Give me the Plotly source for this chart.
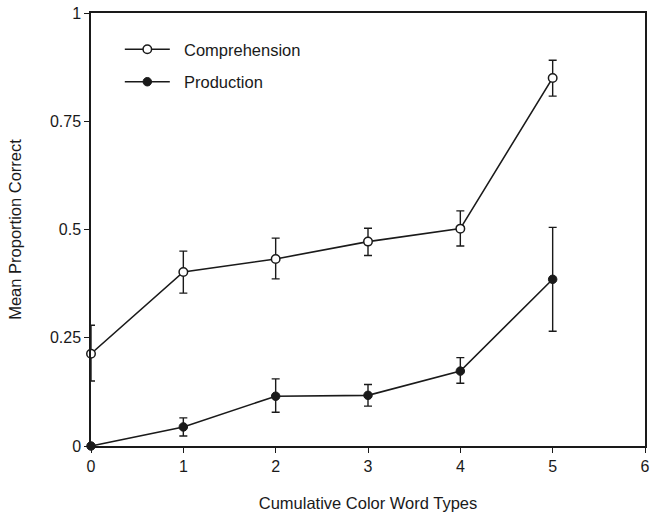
import plotly.graph_objects as go

x_vals = [0, 1, 2, 3, 4, 5]
comp_mean = [0.213, 0.402, 0.432, 0.472, 0.502, 0.850]
comp_err_plus = [0.066, 0.048, 0.048, 0.031, 0.041, 0.041]
comp_err_minus = [0.063, 0.049, 0.046, 0.032, 0.040, 0.042]
prod_mean = [0.0, 0.044, 0.115, 0.117, 0.173, 0.385]
prod_err_plus = [0.0, 0.021, 0.040, 0.025, 0.031, 0.120]
prod_err_minus = [0.0, 0.021, 0.037, 0.025, 0.028, 0.120]
x_ticks = [0, 1, 2, 3, 4, 5, 6]
y_ticks = [0, 0.25, 0.5, 0.75, 1]
y_tick_labels = ["0", "0.25", "0.5", "0.75", "1"]
series_names = ["Comprehension", "Production"]

ink = "#1a1a1a"
font_family = "Liberation Sans, Arial, sans-serif"
pad = "\u00a0\u00a0"

fig = go.Figure()
fig.add_trace(go.Scatter(
    x=x_vals, y=comp_mean, name=pad + series_names[0], mode="lines+markers",
    legendgroup="a",
    line=dict(color=ink, width=1.6),
    marker=dict(symbol="circle", size=8.5, color="white", line=dict(color=ink, width=1.5)),
    error_y=dict(type="data", symmetric=False, array=comp_err_plus, arrayminus=comp_err_minus,
                 color=ink, thickness=1.4, width=4),
    cliponaxis=False,
))
fig.add_trace(go.Scatter(
    x=x_vals, y=prod_mean, name=pad + series_names[1], mode="lines+markers",
    legendgroup="b",
    line=dict(color=ink, width=1.6),
    marker=dict(symbol="circle", size=8.5, color=ink, line=dict(color=ink, width=1)),
    error_y=dict(type="data", symmetric=False, array=prod_err_plus, arrayminus=prod_err_minus,
                 color=ink, thickness=1.4, width=4),
    cliponaxis=False,
))

fig.update_layout(
    width=658, height=512,
    margin=dict(l=91, r=13, t=13, b=66),
    paper_bgcolor="white", plot_bgcolor="white",
    font=dict(family=font_family, size=16, color=ink),
    showlegend=True,
    legend=dict(x=0.052, y=0.956, xanchor="left", yanchor="top",
                bgcolor="rgba(0,0,0,0)", font=dict(size=16.5), itemwidth=45,
                tracegroupgap=8),
)
fig.update_xaxes(
    range=[0, 6], tickvals=x_ticks, ticks="outside", ticklen=5, tickwidth=1.3, tickcolor=ink,
    showline=True, linecolor=ink, linewidth=1.5, mirror=True, showgrid=False, zeroline=False,
    automargin=False,
    title=dict(text="Cumulative Color Word Types", standoff=24, font=dict(size=16.5)),
)
fig.update_yaxes(
    range=[0, 1], tickvals=y_ticks, ticktext=y_tick_labels, ticks="outside", ticklen=5,
    tickwidth=1.3, tickcolor=ink, automargin=False,
    showline=True, linecolor=ink, linewidth=1.5, mirror=True, showgrid=False, zeroline=False,
    title=dict(text="Mean Proportion Correct", standoff=24, font=dict(size=16.5)),
)

# remove the default 8px page margin so the figure fills the window exactly
fig.write_html("out.html", config={"displayModeBar": False},
               post_script="document.body.style.margin='0';")
